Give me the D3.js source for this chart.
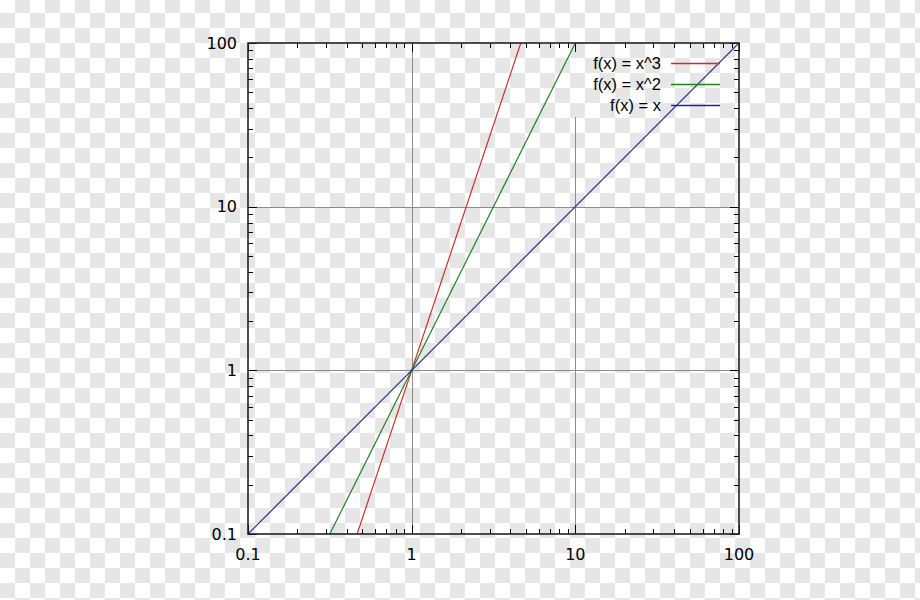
<!DOCTYPE html>
<html>
<head>
<meta charset="utf-8">
<script src="https://cdnjs.cloudflare.com/ajax/libs/d3/7.8.5/d3.min.js"></script>
<style>
  html, body { margin: 0; padding: 0; background: #fff; }
  svg { display: block; }
  text { font-family: "DejaVu Sans", sans-serif; font-size: 16px; fill: #000; }
  text.key { font-family: "Liberation Sans", Arial, sans-serif; font-size: 16.5px; }
</style>
</head>
<body>
<div id="chart"></div>
<script>
// values
const xTicks = [0.1, 1, 10, 100];
const yTicks = [0.1, 1, 10, 100];
const tickLabels = ["0.1", "1", "10", "100"];

const seriesNames = ["f(x) = x^3", "f(x) = x^2", "f(x) = x"];
const seriesColors = ["#d42a2a", "#1a861a", "#1e1eb0"];
const cubeX = [0.4642, 1, 4.642];
const cubeY = [0.1, 1, 100];
const squareX = [0.3162, 1, 10];
const squareY = [0.1, 1, 100];
const linearX = [0.1, 1, 10, 100];
const linearY = [0.1, 1, 10, 100];

const width = 920;
const height = 600;
const margin = {left: 248, right: 181, top: 43, bottom: 66};

const svg = d3.select("#chart")
    .append("svg")
    .attr("width", width)
    .attr("height", height);

// transparent-png checkerboard backdrop
const pat = svg.append("defs").append("pattern")
    .attr("id", "checker")
    .attr("patternUnits", "userSpaceOnUse")
    .attr("x", 0).attr("y", -2)
    .attr("width", 30).attr("height", 30);
pat.append("rect").attr("width", 30).attr("height", 30).attr("fill", "#ffffff");
pat.append("rect").attr("x", 15).attr("y", 0).attr("width", 15).attr("height", 15).attr("fill", "#e6e6e6");
pat.append("rect").attr("x", 0).attr("y", 15).attr("width", 15).attr("height", 15).attr("fill", "#e6e6e6");
svg.append("rect").attr("width", width).attr("height", height).attr("fill", "url(#checker)");

svg.select("defs").append("clipPath").attr("id", "plotclip")
  .append("rect")
    .attr("x", margin.left).attr("y", margin.top)
    .attr("width", width - margin.left - margin.right)
    .attr("height", height - margin.top - margin.bottom);

const x = d3.scaleLog().domain([0.1, 100]).range([margin.left, width - margin.right]);
const y = d3.scaleLog().domain([0.1, 100]).range([height - margin.bottom, margin.top]);

const keyBottom = 117; // grid stops under the key box

// grid
const grid = svg.append("g").attr("stroke", "#8c8c8c").attr("stroke-width", 1);
xTicks.slice(1, -1).forEach((v, i) => {
    grid.append("line")
        .attr("x1", Math.round(x(v)) + 0.5).attr("x2", Math.round(x(v)) + 0.5)
        .attr("y1", v >= 10 ? keyBottom : y(100)).attr("y2", y(0.1));
});
yTicks.slice(1, -1).forEach(v => {
    grid.append("line")
        .attr("x1", x(0.1)).attr("x2", x(100))
        .attr("y1", Math.round(y(v)) + 0.5).attr("y2", Math.round(y(v)) + 0.5);
});

// ticks on all four sides, pointing inward
const minor = [];
[0.1, 1, 10].forEach(d => { for (let k = 2; k <= 9; k++) minor.push(d * k); });
const ticks = svg.append("g").attr("stroke", "#000").attr("stroke-width", 1);
function tickSet(vals, len) {
    vals.forEach(v => {
        const px = Math.round(x(v)) + 0.5, py = Math.round(y(v)) + 0.5;
        ticks.append("line").attr("x1", px).attr("x2", px).attr("y1", y(0.1)).attr("y2", y(0.1) - len);
        ticks.append("line").attr("x1", px).attr("x2", px).attr("y1", y(100)).attr("y2", y(100) + len);
        ticks.append("line").attr("y1", py).attr("y2", py).attr("x1", x(0.1)).attr("x2", x(0.1) + len);
        ticks.append("line").attr("y1", py).attr("y2", py).attr("x1", x(100)).attr("x2", x(100) - len);
    });
}
tickSet(xTicks, 9);
tickSet(minor, 5);

// curves
const line = d3.line().x(d => x(d[0])).y(d => y(d[1]));
const series = [d3.zip(cubeX, cubeY), d3.zip(squareX, squareY), d3.zip(linearX, linearY)];
const plot = svg.append("g").attr("clip-path", "url(#plotclip)");
series.forEach((s, i) => {
    plot.append("path")
        .datum(s)
        .attr("d", line)
        .attr("fill", "none")
        .attr("stroke", seriesColors[i])
        .attr("stroke-width", 1.2);
});

// border
svg.append("rect")
    .attr("x", x(0.1)).attr("y", y(100))
    .attr("width", x(100) - x(0.1)).attr("height", y(0.1) - y(100))
    .attr("fill", "none")
    .attr("stroke", "#222")
    .attr("stroke-width", 1.6);

// tick labels
svg.append("g").selectAll("text")
    .data(yTicks)
    .enter().append("text")
    .attr("x", x(0.1) - 11)
    .attr("y", d => y(d))
    .attr("dy", "0.36em")
    .attr("text-anchor", "end")
    .text((d, i) => tickLabels[i]);

svg.append("g").selectAll("text")
    .data(xTicks)
    .enter().append("text")
    .attr("x", d => x(d))
    .attr("y", y(0.1) + 20)
    .attr("dy", "0.36em")
    .attr("text-anchor", "middle")
    .text((d, i) => tickLabels[i]);

// key
const key = svg.append("g");
seriesNames.forEach((name, i) => {
    const ky = 63 + i * 21;
    key.append("text")
        .attr("class", "key")
        .attr("x", 661).attr("y", ky).attr("dy", "0.36em")
        .attr("text-anchor", "end")
        .text(name);
    key.append("line")
        .attr("x1", 671).attr("x2", 720)
        .attr("y1", ky + 0.5).attr("y2", ky + 0.5)
        .attr("stroke", seriesColors[i])
        .attr("stroke-width", 1.6);
});
</script>
</body>
</html>
